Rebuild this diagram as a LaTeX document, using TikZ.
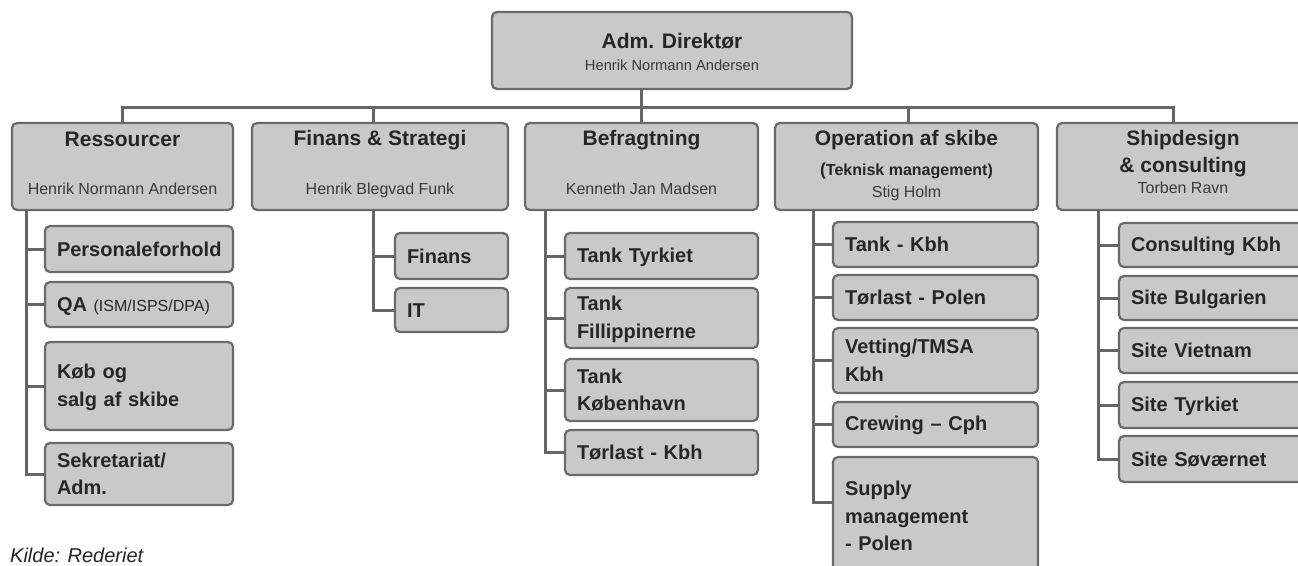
\documentclass[tikz,border=0pt]{standalone}
\usepackage{fontspec}
\setmainfont{Liberation Sans}
\usetikzlibrary{calc}
\definecolor{boxc}{HTML}{C9C9C9}
\definecolor{bordc}{HTML}{6A6A6A}
\definecolor{linec}{HTML}{666666}
\definecolor{txtc}{HTML}{262626}
\definecolor{nmc}{HTML}{3A3A3A}
\newcommand\kidfont{\fontsize{20}{27.5}\selectfont\bfseries}
\newcommand\ttlfont{\fontsize{21}{25}\selectfont\bfseries}
\newcommand\nmfont{\fontsize{16}{19}\selectfont}
\newcommand\topnmfont{\fontsize{14.7}{18}\selectfont}
\newcommand\kstA{\rule{0pt}{17pt}}
\newcommand\kstB{\rule[-2.6pt]{0pt}{2.6pt}}
\tikzset{
  bx/.style={draw=bordc, fill=boxc, line width=2.2pt, rounded corners=5pt, inner sep=0pt, outer sep=0pt},
  kid/.style={bx, align=left, inner xsep=12pt, inner ysep=0pt, font=\kidfont, text=txtc},
  conn/.style={draw=linec, line width=3pt},
  ttl/.style={font=\ttlfont, text=txtc, inner sep=0pt, anchor=base},
  nm/.style={font=\nmfont, text=nmc, inner sep=0pt, anchor=base}
}
\begin{document}
\begin{tikzpicture}[x=1pt,y=-1pt]
\useasboundingbox (0,0) rectangle (1298,565);
\clip (0,0) rectangle (1298,565);
\fill[white] (0,0) rectangle (1298,565);

% top box
\node[bx, minimum width=360pt, minimum height=77pt] (top) at (672,50.5) {};
\node[ttl] (topT) at (672,48) {Adm. Direktør};
\node[nm, font=\topnmfont] (topN) at (672,70) {Henrik Normann Andersen};

% level 1 boxes
\node[bx, minimum width=221pt, minimum height=87pt] (res) at (122.5,166.5) {};
\node[bx, minimum width=256pt, minimum height=87pt] (fin) at (380,166.5) {};
\node[bx, minimum width=233pt, minimum height=87pt] (bef) at (641.5,166.5) {};
\node[bx, minimum width=263pt, minimum height=87pt] (op) at (906.5,166.5) {};
\node[bx, minimum width=252pt, minimum height=87pt] (shi) at (1183,166.5) {};

\node[ttl] (resT) at (122.5,146) {Ressourcer};
\node[nm] (resN) at (122.5,194) {Henrik Normann Andersen};
\node[ttl] (finT) at (380,145) {Finans \& Strategi};
\node[nm] (finN) at (380,194) {Henrik Blegvad Funk};
\node[ttl] (befT) at (641.5,145) {Befragtning};
\node[nm] (befN) at (641.5,194) {Kenneth Jan Madsen};
\node[ttl] (opT) at (906.5,145) {Operation af skibe};
\node[nm, font=\fontsize{16}{19}\selectfont\bfseries, text=txtc] (opS) at (906.5,175) {{\fontsize{17.5}{19}\selectfont(}Teknisk management)};
\node[nm] (opN) at (906.5,197) {Stig Holm};
\node[ttl] (shiT) at (1183,145) {Shipdesign};
\node[ttl] (shiS) at (1183,172) {\& consulting};
\node[nm] (shiN) at (1183,193) {Torben Ravn};

% connectors top level
\coordinate (busy) at (0,107);
\coordinate (shiUp) at ([xshift=-10pt]shi.north);
\coordinate (finUp) at ([xshift=-7pt]fin.north);
\coordinate (opUp) at ([xshift=1.5pt]op.north);
\draw[conn] (top.south -| bef.north) -- (bef.north);
\draw[conn] (res.north) |- (busy -| shiUp) -- (shiUp);
\draw[conn] (finUp) -- (finUp |- busy);
\draw[conn] (opUp) -- (opUp |- busy);

% Ressourcer children
\node[kid, minimum width=188pt, text width=164pt, minimum height=46pt] (per) at (139,249) {\kstA Personaleforhold\kstB};
\node[kid, minimum width=188pt, text width=164pt, minimum height=45pt] (qa) at (139,304.5) {\kstA QA {\mdseries\fontsize{16}{19}\selectfont (ISM/ISPS/DPA)}\kstB};
\node[kid, minimum width=188pt, text width=164pt, minimum height=88pt] (kob) at (139,386) {\kstA Køb og\\salg af skibe\kstB};
\node[kid, minimum width=188pt, text width=164pt, minimum height=62pt] (sek) at (139,474) {\kstA Sekretariat/\\Adm.\kstB};
\coordinate (resSp) at ([xshift=14pt]res.south west);
\foreach \c in {per,qa,kob,sek} \draw[conn] (resSp) |- (\c.west);

% Finans children
\node[kid, minimum width=113pt, text width=89pt, minimum height=46pt] (fi) at (451.5,256) {\kstA Finans\kstB};
\node[kid, minimum width=113pt, text width=89pt, minimum height=44pt] (it) at (451.5,310) {\kstA IT\kstB};
\coordinate (finSp) at ([xshift=-7pt]fin.south);
\foreach \c in {fi,it} \draw[conn] (finSp) |- (\c.west);

% Befragtning children
\node[kid, minimum width=193pt, text width=169pt, minimum height=46pt] (tt) at (661.5,256) {\kstA Tank Tyrkiet\kstB};
\node[kid, minimum width=193pt, text width=169pt, minimum height=60pt] (tf) at (661.5,318) {\kstA Tank\\Fillippinerne\kstB};
\node[kid, minimum width=193pt, text width=169pt, minimum height=62pt] (tk) at (661.5,390) {\kstA Tank\\København\kstB};
\node[kid, minimum width=193pt, text width=169pt, minimum height=45pt] (tl) at (661.5,452.5) {\kstA Tørlast - Kbh\kstB};
\coordinate (befSp) at ([xshift=20pt]bef.south west);
\foreach \c in {tt,tf,tk,tl} \draw[conn] (befSp) |- (\c.west);

% Operation children
\node[kid, minimum width=205pt, text width=181pt, minimum height=45pt] (okb) at (935.5,244.5) {\kstA Tank - Kbh\kstB};
\node[kid, minimum width=205pt, text width=181pt, minimum height=45pt] (otp) at (935.5,297.5) {\kstA Tørlast - Polen\kstB};
\node[kid, minimum width=205pt, text width=181pt, minimum height=65pt] (ovt) at (935.5,360.5) {\kstA Vetting/TMSA\\Kbh\kstB};
\node[kid, minimum width=205pt, text width=181pt, minimum height=45pt] (ocr) at (935.5,424.5) {\kstA Crewing – Cph\kstB};
\node[kid, minimum width=205pt, text width=181pt, minimum height=118pt] (osu) at (935.5,516) {\kstA Supply\\management\\- Polen\kstB};
\coordinate (opSp) at ([xshift=38pt]op.south west);
\foreach \c in {okb,otp,ovt,ocr} \draw[conn] (opSp) |- (\c.west);
\draw[conn] (opSp) |- ([yshift=14pt]osu.west);

% Shipdesign children
\node[kid, minimum width=191pt, text width=167pt, minimum height=44pt] (sck) at (1214.5,245) {\kstA Consulting Kbh\kstB};
\node[kid, minimum width=191pt, text width=167pt, minimum height=44pt] (sbu) at (1214.5,298) {\kstA Site Bulgarien\kstB};
\node[kid, minimum width=191pt, text width=167pt, minimum height=45pt] (svi) at (1214.5,350.5) {\kstA Site Vietnam\kstB};
\node[kid, minimum width=191pt, text width=167pt, minimum height=46pt] (sty) at (1214.5,405) {\kstA Site Tyrkiet\kstB};
\node[kid, minimum width=191pt, text width=167pt, minimum height=46pt] (ssv) at (1214.5,459) {\kstA Site Søværnet\kstB};
\coordinate (shiSp) at ([xshift=41pt]shi.south west);
\foreach \c in {sck,sbu,svi,sty,ssv} \draw[conn] (shiSp) |- (\c.west);

% source
\node[anchor=base west, inner sep=0pt, font=\fontsize{20}{24}\selectfont\itshape, text=txtc] (kilde) at (10,562.5) {Kilde: Rederiet};
\end{tikzpicture}
\end{document}
